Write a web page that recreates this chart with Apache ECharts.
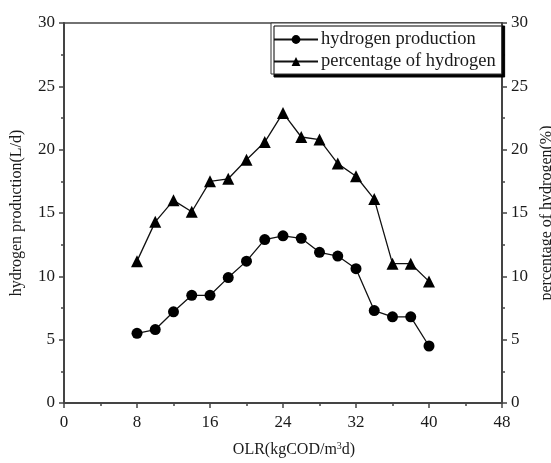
<!DOCTYPE html>
<html>
<head>
<meta charset="utf-8">
<script src="https://cdn.jsdelivr.net/npm/echarts@6/dist/echarts.min.js"></script>
<style>html,body{margin:0;padding:0;background:#fff}#c{width:551px;height:463px}</style>
</head>
<body>
<div id="c"></div>
<script>
var olr = [8,10,12,14,16,18,20,22,24,26,28,30,32,34,36,38,40];
var hydrogenProduction = [5.5,5.8,7.2,8.5,8.5,9.9,11.2,12.9,13.2,13.0,11.9,11.6,10.6,7.3,6.8,6.8,4.5];
var percentageHydrogen = [11.2,14.3,16.0,15.1,17.5,17.7,19.2,20.6,22.9,21.0,20.8,18.9,17.9,16.1,11.0,11.0,9.6];
var xTicks = [0,8,16,24,32,40,48];
var yTicks = [0,5,10,15,20,25,30];

var FONT = 'Liberation Serif';
var TXT = '#1a1a1a';
var AX = '#444';

function pairs(xs, ys){ return xs.map(function(x,i){ return [x, ys[i]]; }); }

var chart = echarts.init(document.getElementById('c'));
var yAxisCommon = {
  type: 'value', min: yTicks[0], max: yTicks[yTicks.length-1], interval: 5,
  axisLine: {show: true, lineStyle: {color: AX, width: 2}},
  axisTick: {show: true, length: 5, lineStyle: {color: AX, width: 1.5}},
  minorTick: {show: true, splitNumber: 2, length: 3, lineStyle: {color: AX, width: 1.5}},
  splitLine: {show: false},
  axisLabel: {fontFamily: FONT, fontSize: 17, color: TXT, margin: 9},
  nameLocation: 'middle', nameRotate: 90,
  nameTextStyle: {fontFamily: FONT, fontSize: 16, color: TXT}
};
chart.setOption({
  animation: false,
  backgroundColor: '#fff',
  grid: {left: 64, right: 49, top: 23, bottom: 60, show: true, borderColor: AX, borderWidth: 1.5,
         backgroundColor: 'transparent', containLabel: false, outerBoundsMode: 'none'},
  legend: {
    left: 271, top: 23, orient: 'vertical',
    itemWidth: 44, itemHeight: 11, itemGap: 3,
    padding: [7, 6, 3, 2],
    backgroundColor: '#fff', borderColor: '#333', borderWidth: 1,
    shadowColor: '#000', shadowBlur: 0, shadowOffsetX: 3, shadowOffsetY: 3,
    textStyle: {fontFamily: FONT, fontSize: 18.5, color: TXT, padding: [0,0,0,-2]},
    data: ['hydrogen production', 'percentage of hydrogen']
  },
  xAxis: {
    type: 'value', min: xTicks[0], max: xTicks[xTicks.length-1], interval: 8,
    axisLine: {show: true, onZero: false, lineStyle: {color: AX, width: 2}},
    axisTick: {show: true, length: 5, lineStyle: {color: AX, width: 1.5}},
    minorTick: {show: true, splitNumber: 2, length: 3, lineStyle: {color: AX, width: 1.5}},
    splitLine: {show: false},
    axisLabel: {fontFamily: FONT, fontSize: 17, color: TXT, margin: 11},
    name: 'OLR(kgCOD/m{sup|3}d)',
    nameLocation: 'middle', nameGap: 38,
    nameTextStyle: {fontFamily: FONT, fontSize: 16, color: TXT, padding: [0,0,0,22],
      rich: {sup: {fontFamily: FONT, fontSize: 10, color: TXT, verticalAlign: 'top', padding: [0,0,8,0]}}}
  },
  yAxis: [
    Object.assign({}, yAxisCommon, {position: 'left', name: 'hydrogen production(L/d)', nameGap: 39}),
    Object.assign({}, yAxisCommon, {position: 'right', name: 'percentage of hydrogen(%)', nameGap: 33})
  ],
  series: [
    {
      name: 'hydrogen production', type: 'line', yAxisIndex: 0,
      data: pairs(olr, hydrogenProduction),
      symbol: 'circle', symbolSize: 11,
      lineStyle: {color: '#111', width: 1.3},
      itemStyle: {color: '#000', borderWidth: 0}
    },
    {
      name: 'percentage of hydrogen', type: 'line', yAxisIndex: 1,
      data: pairs(olr, percentageHydrogen),
      symbol: 'triangle', symbolSize: 12,
      lineStyle: {color: '#111', width: 1.3},
      itemStyle: {color: '#000', borderWidth: 0}
    }
  ]
});
</script>
</body>
</html>
